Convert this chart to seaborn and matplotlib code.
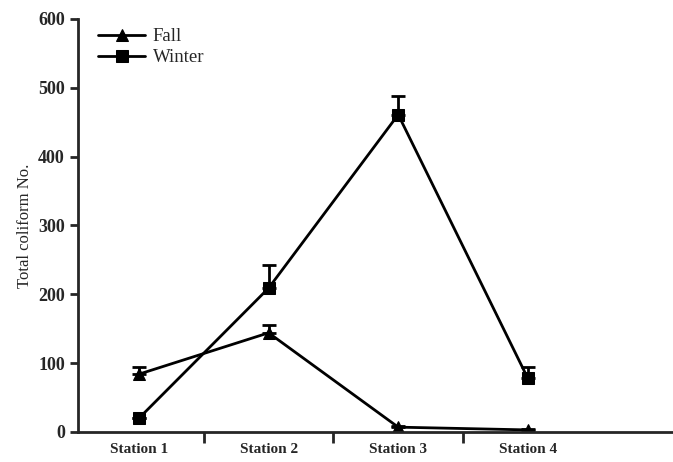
import matplotlib
matplotlib.use("Agg")
import matplotlib.pyplot as plt
import numpy as np
import pandas as pd
import seaborn as sns

# data
stations = ["Station 1", "Station 2", "Station 3", "Station 4"]
fall = [84, 144, 7, 3]
fall_err = [10, 11, 2, 1]
winter = [20, 209, 461, 78]
winter_err = [0, 34, 27, 17]

sns.set_style("ticks")
plt.rcParams["font.family"] = ["Liberation Serif", "DejaVu Serif"]

df = pd.DataFrame({
    "station": stations * 2,
    "value": fall + winter,
    "season": ["Fall"] * 4 + ["Winter"] * 4,
})

fig = plt.figure(figsize=(6.73, 4.62), dpi=100)
ax = fig.add_axes([0.116, 0.065, 0.884, 0.894])

sns.lineplot(
    data=df, x="station", y="value", hue="season", style="season",
    markers={"Fall": "^", "Winter": "s"}, dashes=False,
    palette={"Fall": "black", "Winter": "black"},
    markersize=8, linewidth=2, markeredgecolor="black", ax=ax,
)

# upward-only error bars
pos = np.arange(len(stations))
for vals, errs in [(fall, fall_err), (winter, winter_err)]:
    ax.errorbar(pos, vals, yerr=[np.zeros(len(errs)), errs], fmt="none",
                ecolor="black", elinewidth=2, capsize=5, capthick=2, zorder=1)

ax.set_xlim(-0.47, 4.12)
ax.set_ylim(0, 600)
ax.set_yticks(range(0, 601, 100))
ax.set_xticks(pos)
ax.set_xticklabels(stations, fontweight="bold", fontsize=11)
ax.tick_params(axis="x", which="major", length=0, pad=8)
ax.set_xticks([0.5, 1.5, 2.5], minor=True)
ax.tick_params(axis="x", which="minor", length=8, width=2, direction="out")
ax.tick_params(axis="y", length=6, width=2, labelsize=13)
for t in ax.get_yticklabels():
    t.set_fontweight("bold")

ax.set_xlabel("")
ax.set_ylabel("Total coliform No.", fontsize=12)

for s in ["top", "right"]:
    ax.spines[s].set_visible(False)
for s in ["left", "bottom"]:
    ax.spines[s].set_linewidth(2)

leg = ax.legend(loc="upper left", bbox_to_anchor=(0.015, 1.005), frameon=False,
                fontsize=13.5, handlelength=2.5, handletextpad=0.4,
                borderaxespad=0.2, labelspacing=0.2)

fig.savefig("out.png", dpi=100)
